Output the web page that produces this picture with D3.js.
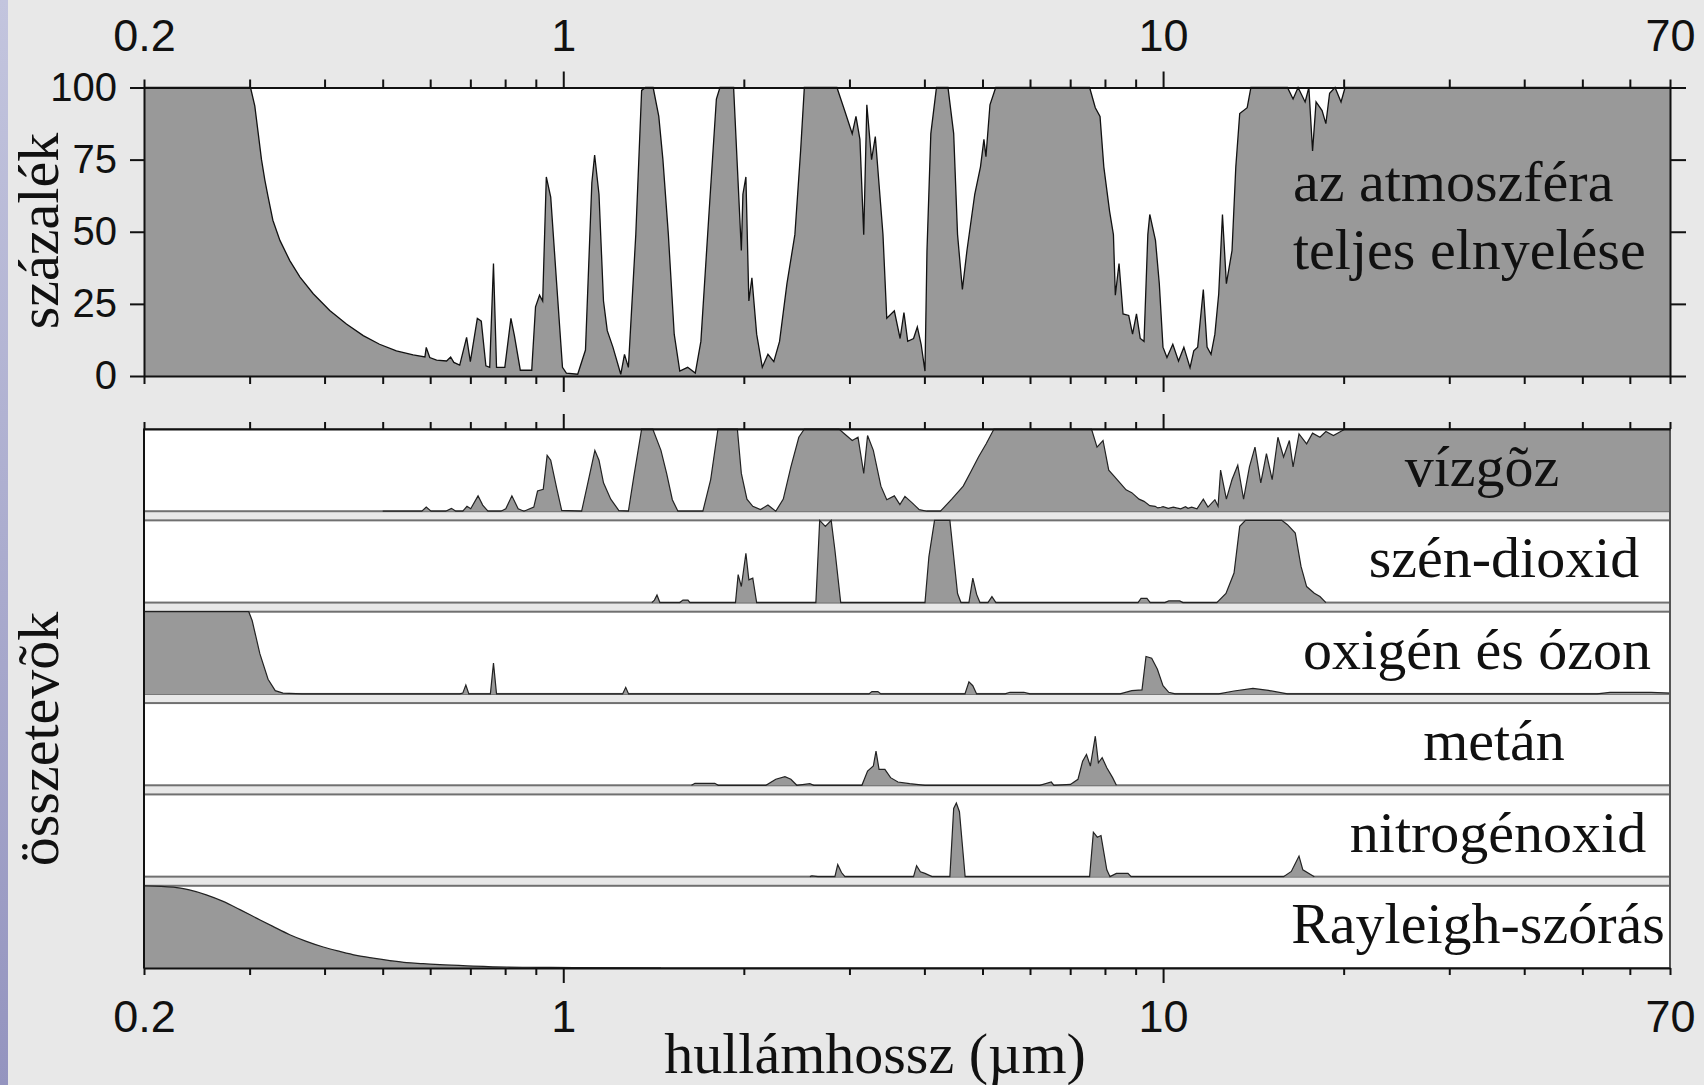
<!DOCTYPE html>
<html>
<head>
<meta charset="utf-8">
<script src="https://cdn.jsdelivr.net/npm/d3@7"></script>
<style>
  body { margin: 0; background: #e8e8e8; }
  svg { display: block; }
</style>
</head>
<body>
<svg></svg>
<script>
// [wavelength in µm, percent]
const totalAbs = [[0.2,100],[0.301,100],[0.306,93.6],[0.31,84.3],[0.314,75],[0.318,68],[0.322,62.2],[0.328,54],[0.337,47],[0.35,40],[0.364,34.3],[0.383,28.5],[0.408,22.7],[0.435,18],[0.464,14],[0.494,11],[0.527,8.7],[0.562,7.3],[0.588,6.6],[0.591,9.9],[0.599,6.4],[0.615,5.5],[0.639,5.2],[0.649,6.6],[0.657,4.7],[0.672,3.8],[0.69,13.4],[0.7,5],[0.719,20],[0.73,19],[0.743,3.5],[0.754,3],[0.765,39],[0.774,3],[0.799,3],[0.818,20],[0.829,14],[0.848,2],[0.886,2],[0.899,24],[0.913,28],[0.924,26],[0.937,69],[0.953,62],[0.975,32],[0.997,3],[1.012,1],[1.057,0.6],[1.089,9],[1.116,67],[1.128,76.6],[1.147,63],[1.167,26],[1.184,15.7],[1.21,10],[1.247,0.6],[1.265,7.5],[1.284,3],[1.321,49],[1.351,99],[1.371,100],[1.412,100],[1.443,90],[1.466,75],[1.497,49],[1.531,14.5],[1.564,1.7],[1.612,3],[1.66,1],[1.696,12],[1.748,55],[1.8,96],[1.825,100],[1.923,100],[1.951,72.5],[1.981,43.5],[1.993,63],[2.016,69],[2.039,26],[2.063,34],[2.101,14.5],[2.147,3],[2.194,7.5],[2.244,5],[2.294,12],[2.36,32],[2.433,49],[2.487,78],[2.523,100],[2.859,100],[2.945,92],[3.032,84],[3.076,90],[3.123,82],[3.169,49],[3.207,94],[3.266,75],[3.313,83],[3.412,49],[3.462,20],[3.564,22.6],[3.644,13],[3.698,22],[3.752,12],[3.837,13],[3.893,17],[3.95,11],[4.009,1.7],[4.04,43.5],[4.1,84],[4.19,100],[4.379,100],[4.476,84],[4.543,49],[4.628,30],[4.71,43.5],[4.853,63],[4.961,72.5],[5.027,82],[5.066,76],[5.145,94],[5.26,100],[7.542,100],[7.709,93],[7.85,90],[7.965,72.5],[8.145,57],[8.264,49],[8.325,28],[8.444,39],[8.575,21.5],[8.764,21],[8.894,14.5],[9.029,21.5],[9.161,13],[9.294,12],[9.431,49],[9.502,56],[9.712,47],[9.856,32],[9.996,10],[10.15,6.4],[10.38,11],[10.61,5.2],[10.83,10],[11.09,2.9],[11.25,8.7],[11.42,10],[11.67,30],[11.84,10],[12.02,7.5],[12.2,14.5],[12.38,28.4],[12.56,56],[12.75,32],[13.03,43.5],[13.22,72.5],[13.42,91],[13.81,93],[14.01,100],[16.12,100],[16.47,96],[16.79,100],[17.25,95],[17.5,100],[17.75,78],[17.99,95],[18.41,92],[18.68,87.5],[18.95,98],[19.35,100],[19.8,95],[20.11,100],[70,100]]

const waterVapor = [[0.5,0],[0.581,0],[0.591,5],[0.602,0],[0.637,0],[0.651,3.5],[0.662,0],[0.68,0],[0.691,6],[0.701,3],[0.721,18.7],[0.734,7.5],[0.749,0],[0.787,0],[0.802,3],[0.821,18.7],[0.841,3],[0.86,0],[0.893,5],[0.906,24.6],[0.926,26.6],[0.94,68],[0.953,62],[0.975,28],[0.994,1],[1.073,0],[1.099,34.5],[1.129,74],[1.147,62],[1.167,34.5],[1.2,14.7],[1.238,0.8],[1.284,0],[1.311,42],[1.351,100],[1.41,100],[1.455,74],[1.487,46],[1.52,14],[1.553,0],[1.709,0],[1.761,38.5],[1.811,100],[1.951,100],[1.981,46],[2.024,14.7],[2.07,6],[2.132,2],[2.194,7.5],[2.261,0],[2.327,14.7],[2.396,54],[2.47,90],[2.523,100],[2.882,100],[2.945,94],[3.032,86],[3.1,90],[3.169,46],[3.216,92],[3.288,74],[3.385,30.5],[3.462,14],[3.564,18.7],[3.641,8],[3.712,18],[3.809,10.7],[3.922,2],[4.04,0],[4.254,0],[4.443,14.7],[4.643,30.5],[4.783,48.4],[4.923,66],[5.071,82],[5.224,100],[7.597,100],[7.76,78],[7.941,86],[8.117,50],[8.299,42],[8.475,34.5],[8.675,26],[8.867,22.6],[9.119,14.7],[9.294,12],[9.502,6.7],[9.7,6],[9.8,4],[9.92,4.8],[10.0,5.5],[10.2,3.5],[10.4,5],[10.53,4],[10.7,3],[10.9,5.5],[11.0,3.5],[11.16,5],[11.39,3],[11.67,14.7],[11.88,5],[12.2,14],[12.35,6],[12.47,50],[12.75,14.7],[13.03,38.5],[13.32,56],[13.62,14.7],[13.93,54],[14.23,78],[14.55,34.5],[14.87,70],[15.2,38.5],[15.54,90],[15.88,66],[16.24,86],[16.47,54],[16.85,94],[17.35,82],[17.75,95],[18.26,90],[18.68,97],[19.23,92],[20.11,100],[70,100]]

const carbonDioxide = [[1.405,0],[1.419,3],[1.433,9.3],[1.449,0],[1.564,0],[1.583,3],[1.614,3],[1.626,0],[1.937,0],[1.957,34],[1.981,19.5],[2.016,60],[2.039,27.6],[2.07,29.7],[2.101,0],[2.637,0],[2.676,100],[2.735,92.7],[2.797,100],[2.837,64],[2.901,0],[4.009,0],[4.07,56],[4.159,100],[4.411,100],[4.476,56],[4.543,11],[4.603,0],[4.746,0],[4.817,29.7],[4.888,10],[4.951,0],[5.105,0],[5.184,7.3],[5.264,0],[9.083,0],[9.188,5],[9.399,5],[9.518,0],[10.07,0],[10.22,2],[10.66,2],[10.79,0],[12.29,0],[12.73,11],[13.13,36],[13.42,92.7],[13.72,100],[15.77,100],[16.12,94.7],[16.61,84.5],[16.98,44],[17.35,19.5],[17.87,11.4],[18.26,7.3],[18.68,0]]

const oxygenOzone = [[0.2,100],[0.299,100],[0.303,89],[0.312,49],[0.322,17.8],[0.331,4],[0.341,1],[0.367,0],[0.672,0],[0.68,1],[0.688,10.7],[0.696,0],[0.756,0],[0.765,37.5],[0.774,0],[1.256,0],[1.271,8],[1.285,0],[3.233,0],[3.27,2.8],[3.346,2.8],[3.385,0],[4.674,0],[4.746,14.6],[4.817,10],[4.888,0],[5.45,0],[5.556,2],[5.861,2],[6.0,0],[8.475,0],[8.867,4],[9.222,5],[9.365,45.5],[9.572,43.5],[9.784,30],[9.996,10],[10.22,2],[10.47,0],[12.38,0],[13.13,3.6],[14.12,6.7],[14.98,4.3],[16.12,0],[52.9,0],[55.6,2],[65.1,2],[70,1]]

const methane = [[1.636,0],[1.658,2.4],[1.789,2.4],[1.813,0],[2.177,0],[2.261,7.3],[2.342,10.5],[2.396,7.3],[2.451,0],[2.577,2],[2.617,0],[3.147,0],[3.216,17.3],[3.288,23.4],[3.322,41.5],[3.361,19.4],[3.437,19.4],[3.513,9.3],[3.614,4],[3.78,2],[4.009,0],[6.229,0],[6.51,4],[6.578,0],[7.008,1],[7.212,7.3],[7.343,29.4],[7.452,37.5],[7.564,23.4],[7.709,59.7],[7.801,27.4],[7.915,33.5],[8.057,21.4],[8.238,9.3],[8.359,0]]

const nitrousOxide = [[2.577,0],[2.597,1],[2.658,0],[2.837,0],[2.868,14.6],[2.91,5],[2.948,0],[3.837,0],[3.882,13.3],[3.939,6],[4.009,4],[4.119,0],[4.411,0],[4.476,83],[4.522,89.6],[4.576,79],[4.677,0],[7.542,0],[7.652,54],[7.768,48],[7.879,50],[8.057,8.3],[8.157,0],[8.359,4],[8.739,4],[8.844,0],[15.88,0],[16.36,6.3],[16.85,25],[17.1,8.3],[17.87,0]]

const rayleigh = [[0.2,100],[0.224,98.4],[0.238,95],[0.254,89],[0.271,81],[0.289,71],[0.308,60.7],[0.328,50.6],[0.35,40.5],[0.373,32.4],[0.398,25.5],[0.424,20.2],[0.452,15.4],[0.482,12],[0.514,9],[0.548,6.5],[0.584,5.3],[0.623,4],[0.708,2.4],[0.805,1.2],[0.914,0.8],[1.042,0.4],[1.455,0]]

const panelLabels = ["vízgõz", "szén-dioxid", "oxigén és ózon", "metán", "nitrogénoxid", "Rayleigh-szórás"]
const panelSeries = [waterVapor, carbonDioxide, oxygenOzone, methane, nitrousOxide, rayleigh]

const xLabelTicks = [0.2, 1, 10, 70]
const majorTicks = [1, 10]
const minorTicks = [0.2, 0.3, 0.4, 0.5, 0.6, 0.7, 0.8, 0.9, 2, 3, 4, 5, 6, 7, 8, 9, 20, 30, 40, 50, 60, 70]
const yTicks = [0, 25, 50, 75, 100]

const width = 1704
const height = 1085
const serif = '"Liberation Serif", "Times New Roman", serif'
const sans = '"Liberation Sans", Arial, sans-serif'
// horizontal centre of each panel caption (layout only)
const labelCentre = [1482, 1504, 1477, 1494, 1498, 1478]

const svg = d3.select('svg')
  .attr('width', width)
  .attr('height', height)
  .style('background', '#e8e8e8')

// bluish strip of the slide on the left edge
const grad = svg.append('defs').append('linearGradient')
  .attr('id', 'strip').attr('x1', 0).attr('x2', 0).attr('y1', 0).attr('y2', 1)
grad.append('stop').attr('offset', '0%').attr('stop-color', '#c3c5de')
grad.append('stop').attr('offset', '100%').attr('stop-color', '#9494bf')
svg.append('rect').attr('x', 0).attr('y', 0).attr('width', 8).attr('height', height).attr('fill', 'url(#strip)')

const x = d3.scaleLog().domain([0.2, 70]).range([144, 1670])
const yTop = d3.scaleLinear().domain([0, 100]).range([376, 87.5])
const band = d3.scaleBand().domain(panelLabels).range([429, 968]).paddingInner(0.1)

function areaFor(y, curve) {
  return d3.area()
    .x(d => x(d[0]))
    .y0(y(0))
    .y1(d => y(d[1]))
    .curve(curve || d3.curveLinear)
}
function lineFor(y, curve) {
  return d3.line()
    .x(d => x(d[0]))
    .y(d => y(d[1]))
    .curve(curve || d3.curveLinear)
}

// ---- top panel: total absorption
svg.append('rect')
  .attr('x', x(0.2)).attr('y', yTop(100))
  .attr('width', x(70) - x(0.2)).attr('height', yTop(0) - yTop(100))
  .attr('fill', 'white')

svg.append('path').datum(totalAbs)
  .attr('d', areaFor(yTop))
  .attr('fill', '#999')
svg.append('path').datum(totalAbs)
  .attr('d', lineFor(yTop))
  .attr('fill', 'none')
  .attr('stroke', '#111')
  .attr('stroke-width', 1.3)

svg.append('text')
  .attr('x', 1293).attr('y', 201)
  .text('az atmoszféra')
  .style('font-family', serif).style('font-size', '58px').attr('fill', '#111')
svg.append('text')
  .attr('x', 1293).attr('y', 269)
  .text('teljes elnyelése')
  .style('font-family', serif).style('font-size', '58px').attr('fill', '#111')

// ---- component panels
panelLabels.forEach(function(label, i) {
  const top = band(label)
  const bottom = top + band.bandwidth()
  const y = d3.scaleLinear().domain([0, 100]).range([bottom, top])
  const curve = label == 'Rayleigh-szórás' ? d3.curveMonotoneX : d3.curveLinear

  svg.append('rect')
    .attr('x', x(0.2)).attr('y', top)
    .attr('width', x(70) - x(0.2)).attr('height', band.bandwidth())
    .attr('fill', 'white')
    .attr('stroke', '#707070')
    .attr('stroke-width', 2)

  svg.append('path').datum(panelSeries[i])
    .attr('d', areaFor(y, curve))
    .attr('fill', '#999')
  svg.append('path').datum(panelSeries[i])
    .attr('d', lineFor(y, curve))
    .attr('fill', 'none')
    .attr('stroke', '#222')
    .attr('stroke-width', 1.2)

  svg.append('text')
    .attr('x', labelCentre[i]).attr('y', top + band.bandwidth() / 2 + 16)
    .attr('text-anchor', 'middle')
    .text(label)
    .style('font-family', serif).style('font-size', '58px').attr('fill', '#111')
})

// frame sides of the lower block
svg.append('line')
  .attr('x1', x(0.2)).attr('x2', x(0.2)).attr('y1', 429).attr('y2', 968)
  .attr('stroke', '#111').attr('stroke-width', 2)
svg.append('line')
  .attr('x1', x(70)).attr('x2', x(70)).attr('y1', 429).attr('y2', 968)
  .attr('stroke', '#555').attr('stroke-width', 2)

// ---- axes
function xAxis(axisFn, yPos, minorLen, majorLen) {
  svg.append('g').attr('transform', `translate(0,${yPos})`)
    .call(axisFn(x).tickValues(minorTicks).tickSize(minorLen).tickSizeOuter(0).tickFormat(''))
    .call(g => g.select('.domain').attr('stroke-width', 2))
  svg.append('g').attr('transform', `translate(0,${yPos})`)
    .call(axisFn(x).tickValues(majorTicks).tickSize(majorLen).tickSizeOuter(0).tickFormat(''))
    .call(g => g.select('.domain').remove())
  svg.selectAll('.tick line').attr('stroke-width', 2).attr('stroke', '#111')
  svg.selectAll('.domain').attr('stroke', '#111')
}

function xLabels(axisFn, yPos, pad) {
  svg.append('g').attr('transform', `translate(0,${yPos})`)
    .call(axisFn(x).tickValues(xLabelTicks).tickSize(0).tickPadding(pad).tickFormat(d => String(d)))
    .call(g => g.select('.domain').remove())
    .selectAll('text')
    .style('font-family', sans).style('font-size', '45px').attr('fill', '#111')
}

xAxis(d3.axisTop, yTop(100), 8, 16)
xAxis(d3.axisBottom, yTop(0), 8, 16)
xAxis(d3.axisTop, 429, 7, 15)
xAxis(d3.axisBottom, 968, 7, 15)
xLabels(d3.axisTop, yTop(100), 36.5)
xLabels(d3.axisBottom, 968, 32)

svg.append('g').attr('transform', `translate(${x(0.2)},0)`)
  .call(d3.axisLeft(yTop).tickValues(yTicks).tickSize(14).tickPadding(13).tickSizeOuter(0))
  .call(g => g.select('.domain').attr('stroke-width', 2).attr('stroke', '#111'))
  .call(g => g.selectAll('.tick line').attr('stroke-width', 2).attr('stroke', '#111'))
  .selectAll('text')
  .style('font-family', sans).style('font-size', '40px').attr('fill', '#111')

svg.append('g').attr('transform', `translate(${x(70)},0)`)
  .call(d3.axisRight(yTop).tickValues(yTicks).tickSize(16).tickSizeOuter(0).tickFormat(''))
  .call(g => g.select('.domain').attr('stroke-width', 2).attr('stroke', '#111'))
  .call(g => g.selectAll('.tick line').attr('stroke-width', 2).attr('stroke', '#111'))

// ---- axis titles
svg.append('text')
  .attr('transform', 'translate(58,231) rotate(-90)')
  .attr('text-anchor', 'middle')
  .text('százalék')
  .style('font-family', serif).style('font-size', '58px').attr('fill', '#111')

svg.append('text')
  .attr('transform', 'translate(58,739) rotate(-90)')
  .attr('text-anchor', 'middle')
  .text('összetevõk')
  .style('font-family', serif).style('font-size', '58px').attr('fill', '#111')

svg.append('text')
  .attr('x', 875).attr('y', 1073)
  .attr('text-anchor', 'middle')
  .text('hullámhossz (µm)')
  .style('font-family', serif).style('font-size', '58px').attr('fill', '#111')
</script>
</body>
</html>
